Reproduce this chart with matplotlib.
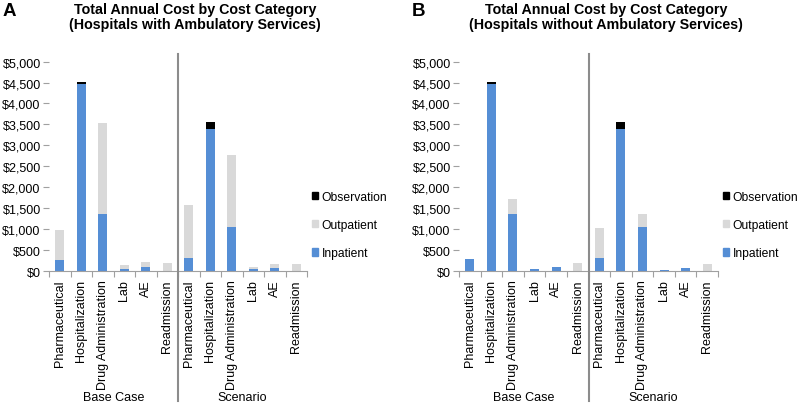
"""Total annual cost by cost category, two hospital settings (panels A and B)."""

import matplotlib

matplotlib.use("Agg")
import matplotlib.pyplot as plt
import numpy as np
from matplotlib.patches import Patch
from matplotlib.ticker import FuncFormatter, FixedLocator
from matplotlib.transforms import blended_transform_factory

plt.rcParams["font.family"] = ["Liberation Sans", "DejaVu Sans"]

categories = ["Pharmaceutical", "Hospitalization", "Drug Administration", "Lab", "AE", "Readmission"]
groups = ["Base Case", "Scenario"]
series = ["Inpatient", "Outpatient", "Observation"]

# panel A: hospitals with ambulatory services (base case then scenario)
a_inpatient = [270, 4465, 1365, 55, 105, 0, 305, 3400, 1055, 40, 80, 0]
a_outpatient = [715, 0, 2180, 90, 105, 190, 1275, 0, 1720, 55, 85, 165]
a_observation = [0, 40, 0, 0, 0, 0, 0, 150, 0, 0, 0, 0]

# panel B: hospitals without ambulatory services
b_inpatient = [285, 4465, 1365, 50, 105, 0, 300, 3400, 1055, 35, 80, 0]
b_outpatient = [0, 0, 345, 0, 0, 190, 735, 0, 310, 0, 0, 165]
b_observation = [0, 40, 0, 0, 0, 0, 0, 150, 0, 0, 0, 0]

panel_letters = ["A", "B"]
titles = [
    "Total Annual Cost by Cost Category\n(Hospitals with Ambulatory Services)",
    "Total Annual Cost by Cost Category\n(Hospitals without Ambulatory Services)",
]

colors = {"Inpatient": "#558ED5", "Outpatient": "#D9D9D9", "Observation": "#000000"}
axis_grey = "#A0A0A0"
sep_grey = "#8C8C8C"


def draw_panel(ax, inpatient, outpatient, observation):
    n = len(categories) * len(groups)
    x = np.arange(n)
    width = 0.42
    inp = np.array(inpatient)
    out = np.array(outpatient)
    obs = np.array(observation)
    ax.bar(x, inp, width, color=colors["Inpatient"], zorder=2)
    ax.bar(x, out, width, bottom=inp, color=colors["Outpatient"], zorder=2)
    ax.bar(x, obs, width, bottom=inp + out, color=colors["Observation"], zorder=2)

    ax.set_xlim(-0.5, n - 0.5)
    ax.set_ylim(0, 5000)
    ax.yaxis.set_major_locator(FixedLocator(np.arange(0, 5001, 500)))
    ax.yaxis.set_major_formatter(FuncFormatter(lambda v, _: f"${v:,.0f}"))
    ax.tick_params(axis="y", length=4, width=0.8, color=axis_grey, pad=2, labelsize=9)

    ax.set_xticks(x)
    ax.set_xticklabels(categories * len(groups), rotation=90, fontsize=9)
    ax.set_xticks(np.arange(-0.5, n, 1.0), minor=True)
    ax.tick_params(axis="x", which="major", length=0, pad=6)
    ax.tick_params(axis="x", which="minor", length=4, width=0.8, color=axis_grey)

    for side in ["top", "right", "left"]:
        ax.spines[side].set_visible(False)
    ax.spines["bottom"].set_color(axis_grey)
    ax.spines["bottom"].set_linewidth(0.8)

    trans = blended_transform_factory(ax.transData, ax.transAxes)
    mid = len(categories) - 0.5
    ax.plot([mid, mid], [-0.62, 1.037], color=sep_grey, lw=1.5, transform=trans, clip_on=False, zorder=3)
    for i, g in enumerate(groups):
        center = i * len(categories) + (len(categories) - 1) / 2
        ax.text(center, -0.602, g, transform=trans, ha="center", va="center", fontsize=9)

    handles = [Patch(color=colors[s]) for s in reversed(series)]
    ax.legend(
        handles,
        list(reversed(series)),
        loc="center left",
        bbox_to_anchor=(1.0, 0.22),
        frameon=False,
        fontsize=8.7,
        handlelength=0.55,
        handleheight=0.55,
        handletextpad=0.25,
        labelspacing=1.35,
        borderaxespad=0,
        borderpad=0.4,
    )


fig = plt.figure(figsize=(7.98, 4.06), dpi=100)
ax_a = fig.add_axes([49 / 798, 134 / 406, 258 / 798, 209.4 / 406])
ax_b = fig.add_axes([459 / 798, 134 / 406, 259 / 798, 209.4 / 406])

draw_panel(ax_a, a_inpatient, a_outpatient, a_observation)
draw_panel(ax_b, b_inpatient, b_outpatient, b_observation)

for letter, lx in zip(panel_letters, [3 / 798, 412 / 798]):
    fig.text(lx, 1 - 12 / 406, letter, fontsize=13.5, fontweight="bold", ha="left", va="center")
for title, tx in zip(titles, [195 / 798, 606 / 798]):
    fig.text(tx, 1 - 17.5 / 406, title, fontsize=10.3, fontweight="bold", ha="center", va="center",
             linespacing=1.1)

fig.savefig("out.png", dpi=100)
